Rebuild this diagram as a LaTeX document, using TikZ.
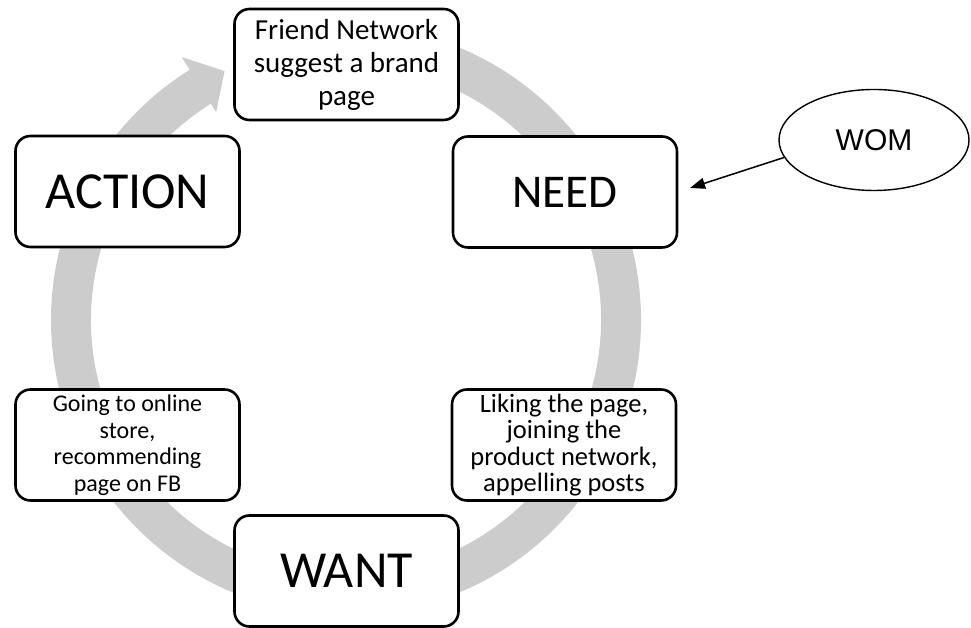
\documentclass[tikz,border=0pt]{standalone}
\usepackage{fontspec}
\setmainfont{Carlito}
\newfontfamily\womfont{Liberation Sans}
\usetikzlibrary{shapes.geometric,arrows.meta}
\begin{document}
\begin{tikzpicture}[x=1pt, y=1pt, >={Triangle[length=15pt,width=11pt]},
  box/.style={draw, line width=2.6pt, rounded corners=15pt, fill=white,
    minimum width=224pt, minimum height=111pt, align=center, inner sep=1pt},
  bigbox/.style={box, font=\fontsize{52}{60}\selectfont},
  womnode/.style={draw, ellipse, line width=1.4pt, minimum width=190pt,
    minimum height=101pt, font=\womfont\fontsize{30}{36}\selectfont}]
  \useasboundingbox (0,0) rectangle (971,628);
  % grey cycle arrow behind the boxes
  \begin{scope}[shift={(346,308)}]
    \fill[black!20] (95:295) arc[start angle=95, end angle=-238, radius=295]
      -- (-238:310) -- (-244:277) -- (-238:245) -- (-238:255)
      arc[start angle=-238, end angle=95, radius=255] -- cycle;
  \end{scope}
  \node[box, font=\fontsize{29}{33}\selectfont] (friend) at (346.5,563.5)
    {Friend Network\\suggest a brand\\page};
  \foreach \n/\x/\y/\t in {action/127.5/436.5/ACTION, want/346.5/57/WANT}{
    \node[bigbox] (\n) at (\x,\y) {\t};
  }
  \node[bigbox, font=\fontsize{47}{56}\selectfont] (need) at (565,436) {NEED};
  \node[box, font=\fontsize{24}{26.5}\selectfont] (going) at (127.5,183)
    {Going to online\\store,\\recommending\\page on FB};
  \node[box, font=\fontsize{26.5}{26.5}\selectfont] (liking) at (564,183)
    {Liking the page,\\joining the\\product network,\\appelling posts};
  \node[womnode] (wom) at (874,488) {WOM};
  \coordinate (needin) at (690,440);
  \draw[->, line width=1.5pt] (wom.191) -- (needin);
\end{tikzpicture}
\end{document}
